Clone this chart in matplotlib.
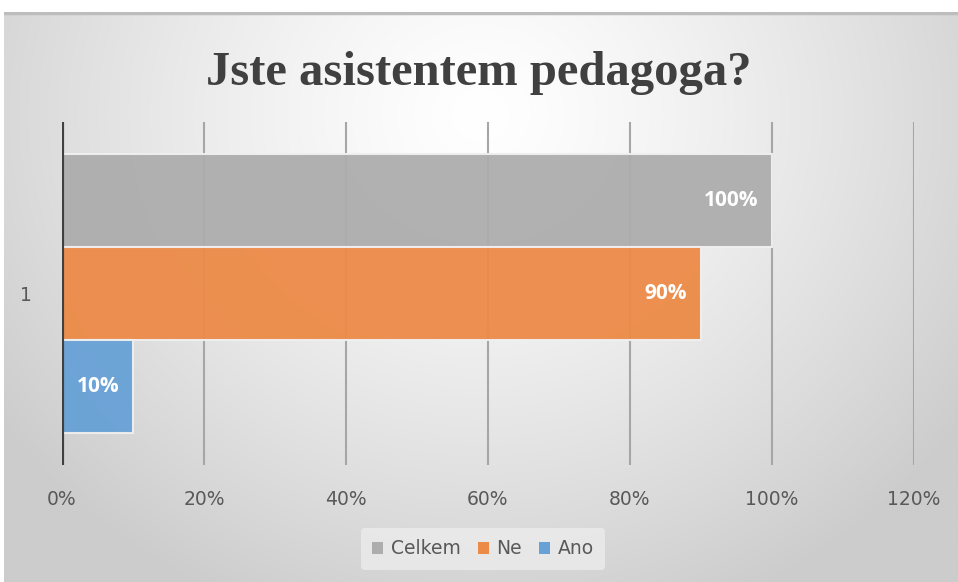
import numpy as np
import matplotlib
matplotlib.use("Agg")
import matplotlib.pyplot as plt
from matplotlib.patches import Patch

# data
category = "1"
series = ["Celkem", "Ne", "Ano"]
values = [1.00, 0.90, 0.10]
colors = ["#adadad", "#ec8a47", "#67a1d6"]
xticks = [0, 0.2, 0.4, 0.6, 0.8, 1.0, 1.2]
title = "Jste asistentem pedagoga?"

W, H = 958, 582
fig = plt.figure(figsize=(W / 100, H / 100), dpi=100)
fig.patch.set_facecolor("white")

# radial gradient background of the chart area
bg = fig.add_axes([4 / W, 0, 1 - 4 / W, (H - 12) / H], zorder=0)
yy, xx = np.mgrid[0:1:400j, 0:1:660j]
r = np.sqrt(((xx - 0.5) / 0.62) ** 2 + ((yy - 0.18) / 0.95) ** 2)
r = np.clip(r, 0, 1) ** 1.3
c0 = np.array([1.0, 1.0, 1.0])
c1 = np.array([0.80, 0.80, 0.80])
img = c0[None, None, :] * (1 - r[..., None]) + c1[None, None, :] * r[..., None]
bg.imshow(img, aspect="auto", extent=[0, 1, 1, 0])
bg.set_xlim(0, 1)
bg.set_ylim(1, 0)
bg.axis("off")
bg.axhline(0.002, color="#bdbdbd", lw=2.5)

# plot area
ax = fig.add_axes([62 / W, (H - 465) / H, (914 - 62) / W, (465 - 122) / H], zorder=1)
ax.patch.set_alpha(0)

h = 0.272
offsets = [h, 0, -h]
for name, v, c, off in zip(series, values, colors, offsets):
    ax.barh(off, v, height=h, color=c, edgecolor="#f0f0f0", linewidth=1.5,
            alpha=0.95, zorder=3, label=name)
    ax.annotate(f"{v:.0%}", (v, off), xytext=(-10, 0), textcoords="offset points",
                ha="right", va="center", color="white", fontsize=15,
                fontweight="bold", family="Open Sans", zorder=4)

ax.set_xlim(0, 1.2)
ax.set_ylim(-0.5, 0.5)
for x in xticks[1:]:
    ax.axvline(x, color="#a6a6a6", lw=1.5, zorder=1)
ax.axvline(0, color="#404040", lw=3, zorder=5)

ax.set_xticks(xticks)
ax.set_xticklabels([f"{x:.0%}" for x in xticks])
ax.set_yticks([0])
ax.set_yticklabels([category])
ax.tick_params(length=0, colors="#595959", labelsize=13.5)
ax.tick_params(axis="x", pad=18)
ax.tick_params(axis="y", pad=22)
for s in ax.spines.values():
    s.set_visible(False)

fig.text(0.5, (H - 85) / H, title, ha="center", va="baseline", fontsize=35,
         fontweight="bold", family="Liberation Serif", color="#404040")

handles = [Patch(facecolor=c, edgecolor="none") for c in colors]
leg = fig.legend(handles, series, loc="center", bbox_to_anchor=(483 / W, (H - 549) / H),
                 ncol=3, frameon=True, fontsize=13.5, handlelength=0.6, handleheight=0.6,
                 handletextpad=0.4, columnspacing=0.9, borderpad=0.6)
leg.get_frame().set_facecolor("#ececec")
leg.get_frame().set_edgecolor("none")
leg.get_frame().set_alpha(0.8)
for t in leg.get_texts():
    t.set_color("#595959")

fig.savefig("out.png", dpi=100)
